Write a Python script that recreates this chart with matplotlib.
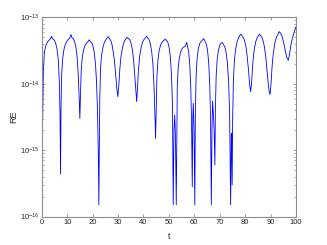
import matplotlib
matplotlib.use("Agg")
import matplotlib.pyplot as plt
from matplotlib.ticker import LogLocator, FixedLocator, NullFormatter

# relative error, in units of 1e-14
t = [
    0.0, 0.1, 0.3, 0.6, 1.0, 1.5, 2.0, 2.5, 3.0, 3.4, 3.8, 4.2, 4.6, 5.0, 5.5, 6.0, 6.5, 6.9, 7.15, 7.35,
    7.55, 7.8, 8.2, 8.7, 9.3, 9.9, 10.5, 11.0, 11.5, 11.9, 12.4, 12.9, 13.4, 13.9, 14.3, 14.7, 14.96,
    15.2, 15.5, 15.9, 16.4, 17.0, 17.6, 18.1, 18.6, 19.1, 19.6, 20.1, 20.6, 21.1, 21.5, 21.9, 22.2, 22.44,
    22.6, 22.8, 23.1, 23.5, 24.0, 24.6, 25.2, 25.7, 26.1, 26.6, 27.1, 27.6, 28.1, 28.6, 29.1, 29.5, 29.9,
    30.3, 30.7, 31.2, 31.8, 32.4, 33.0, 33.6, 34.1, 34.6, 35.1, 35.6, 36.1, 36.6, 37.0, 37.3,
    37.6, 38.0, 38.5, 39.1, 39.7, 40.3, 40.8, 41.2, 41.7, 42.2, 42.7, 43.2, 43.7, 44.1, 44.5, 44.75,
    45.0, 45.3, 45.7, 46.2, 46.8, 47.4, 48.0, 48.6, 49.1, 49.6, 50.1, 50.6, 51.0, 51.4, 51.7,
    52.0, 52.3, 52.6, 52.9, 53.1,
    53.3, 53.6, 54.0, 54.5, 55.0, 55.5, 56.0, 56.5, 57.0, 57.4, 57.8, 58.2, 58.6, 58.9, 59.2,
    59.4, 59.6, 59.9, 60.2,
    60.4, 60.7, 61.1, 61.6, 62.2, 62.8, 63.3, 63.7, 64.2, 64.7, 65.2, 65.7, 66.1, 66.4, 66.7,
    66.95, 67.2, 67.5, 67.8, 68.1, 68.3,
    68.6, 69.0, 69.5, 70.0, 70.5, 71.0, 71.5, 72.0, 72.5, 73.0, 73.5, 73.9, 74.3,
    74.55, 74.7, 74.9, 75.1,
    75.4, 75.8, 76.3, 76.9, 77.5, 78.0, 78.4, 78.9, 79.4, 79.9, 80.4, 80.9, 81.4, 81.8, 82.2,
    82.6, 83.0, 83.5, 84.1, 84.7, 85.2, 85.6, 86.1, 86.6, 87.1, 87.6, 88.1, 88.6, 89.1, 89.5, 89.8,
    90.2, 90.6, 91.1, 91.7, 92.3, 92.9, 93.4, 93.9, 94.4, 94.9, 95.4, 95.9, 96.4, 97.0,
    97.5, 98.0, 98.5, 99.0, 99.5, 100.0,
]
re_e14 = [
    0.14, 0.015, 0.27, 1.6, 3.0, 3.7, 4.1, 4.4, 4.6, 4.8, 5.2, 4.8, 4.7, 4.5, 4.0, 3.3, 2.2, 1.0, 0.35, 0.044,
    0.45, 1.4, 2.4, 3.3, 4.0, 4.4, 4.7, 4.9, 5.5, 4.9, 4.8, 4.3, 3.6, 2.5, 1.4, 0.6, 0.3,
    0.7, 1.6, 2.5, 3.2, 3.8, 4.1, 4.3, 4.6, 4.3, 4.2, 3.7, 3.0, 2.0, 1.1, 0.4, 0.1, 0.015,
    0.1, 0.6, 1.7, 2.7, 3.5, 4.2, 4.6, 4.9, 5.1, 4.8, 4.5, 3.9, 3.0, 2.2, 1.3, 0.85, 0.64,
    0.95, 1.7, 2.7, 3.6, 4.3, 4.7, 5.0, 4.8, 4.6, 4.1, 3.3, 2.3, 1.3, 0.8, 0.54,
    0.8, 1.6, 2.6, 3.6, 4.3, 4.7, 4.9, 5.2, 4.9, 4.6, 4.0, 3.1, 2.0, 1.0, 0.35, 0.15,
    0.4, 1.3, 2.3, 3.2, 3.9, 4.3, 4.5, 4.7, 4.5, 4.2, 3.5, 2.5, 1.4, 0.5, 0.015,
    0.2, 0.34, 0.15, 0.015, 0.12,
    0.9, 1.6, 2.3, 2.9, 3.3, 3.5, 3.6, 3.7, 4.2, 3.6, 3.0, 2.0, 0.9, 0.3, 0.028,
    0.3, 0.51, 0.2, 0.015,
    0.3, 1.3, 2.4, 3.4, 4.1, 4.4, 4.6, 4.8, 4.4, 4.0, 3.2, 2.0, 0.9, 0.3, 0.015,
    0.2, 0.55, 0.35, 0.2, 0.06, 0.4,
    1.3, 2.3, 3.2, 3.8, 4.1, 4.2, 3.9, 3.6, 3.0, 2.1, 1.1, 0.35, 0.015,
    0.17, 0.18, 0.03, 0.3,
    1.2, 2.3, 3.4, 4.4, 5.0, 5.4, 5.6, 5.2, 4.9, 4.3, 3.5, 2.4, 1.5, 0.95, 0.76,
    1.1, 2.0, 3.1, 4.2, 4.9, 5.3, 5.6, 5.3, 5.0, 4.4, 3.6, 2.6, 1.6, 1.0, 0.75, 0.69,
    1.0, 1.8, 2.9, 4.1, 5.0, 5.6, 6.1, 5.8, 5.4, 4.6, 3.8, 3.0, 2.5, 2.25,
    2.8, 3.8, 4.7, 5.5, 6.3, 7.2,
]
re = [v * 1e-14 for v in re_e14]

xticks = [0, 10, 20, 30, 40, 50, 60, 70, 80, 90, 100]
yticks = [1e-16, 1e-15, 1e-14, 1e-13]

plt.rcParams['font.family'] = ['Liberation Sans', 'DejaVu Sans']
plt.rcParams['mathtext.fontset'] = 'custom'
plt.rcParams['mathtext.rm'] = 'Liberation Sans'

fig = plt.figure(figsize=(3.27, 2.45), dpi=100)
ax = fig.add_axes([0.128, 0.116, 0.777, 0.813])

ax.semilogy(t, re, color=(0, 0, 1), lw=0.6)

ax.set_xlim(0, 100)
ax.set_ylim(1e-16, 1e-13)
ax.xaxis.set_major_locator(FixedLocator(xticks))
ax.yaxis.set_major_locator(FixedLocator(yticks))
ax.yaxis.set_minor_locator(LogLocator(base=10, subs=range(2, 10), numticks=10))
ax.yaxis.set_minor_formatter(NullFormatter())

edge = '#8c8c8c'
for s in ax.spines.values():
    s.set_color(edge)
    s.set_linewidth(0.8)
ax.tick_params(which='both', direction='in', top=True, right=True,
               color=edge, labelcolor='#262626', labelsize=5.5, pad=2)
ax.tick_params(which='major', length=2.5, width=0.6)
ax.tick_params(which='minor', length=1.5, width=0.5)

ax.set_xlabel('t', fontsize=6.5, color='#262626', labelpad=4)
ax.set_ylabel('RE', fontsize=6.5, color='#262626', labelpad=1)

fig.savefig('out.png', dpi=100)
